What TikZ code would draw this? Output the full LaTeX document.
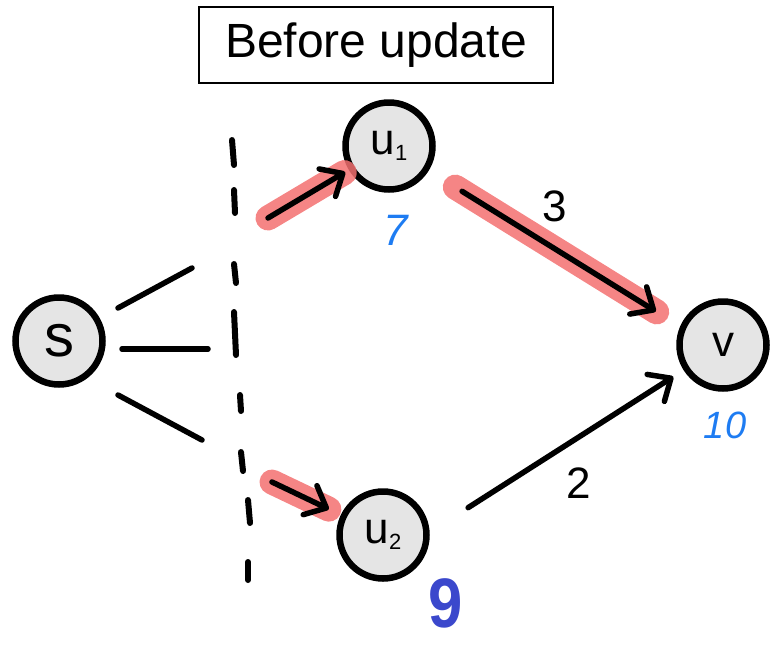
\documentclass[tikz,border=0pt]{standalone}
\usepackage{fontspec}
\usepackage{graphicx}
\setmainfont{Liberation Sans}
\usetikzlibrary{arrows.meta}
\definecolor{hl}{RGB}{243,112,112}
\definecolor{distblue}{RGB}{30,124,242}
\definecolor{newblue}{RGB}{59,72,204}
\definecolor{nodefill}{RGB}{229,229,229}
\begin{document}
\begin{tikzpicture}[x=1pt,y=-1pt,
  vertex/.style={circle, draw=black, line width=6.5pt, fill=nodefill,
    minimum size=87pt, inner sep=0pt, font=\fontsize{44}{44}\selectfont},
  edge/.style={line width=5.5pt, line cap=round},
  arrowedge/.style={edge, -{Straight Barb[length=18pt,width=32pt,round]}},
  highlight/.style={line width=25pt, line cap=round, draw=hl, opacity=0.85},
  dist/.style={text=distblue, font=\fontsize{44}{44}\selectfont\itshape},
  weight/.style={font=\fontsize{44}{44}\selectfont},
  tick/.style={line width=6pt, line cap=round}]
\useasboundingbox (0,0) rectangle (771,646);

% title
\node[draw, line width=1.8pt, minimum width=354pt, minimum height=76pt,
  font=\fontsize{48}{48}\selectfont] (title) at (376,45) {Before update};

% vertices
\node[vertex, font=\fontsize{60}{60}\selectfont] (s) at (59,341) {s};
\node[vertex] (u1) at (389,146) {u\raisebox{-6pt}{\fontsize{22}{22}\selectfont 1}};
\node[vertex] (u2) at (383,535) {u\raisebox{-6pt}{\fontsize{22}{22}\selectfont 2}};
\node[vertex] (v) at (723,345) {v};

% cut line
\draw[tick] (232,140) -- (234,165);
\draw[tick] (234,190) -- (235,213);
\draw[tick] (234,264) -- (236,283);
\draw[tick] (234,312) -- (236,355);
\draw[tick] (240,395) -- (241,411);
\draw[tick] (241,452) -- (243,471);
\draw[tick] (248,500) -- (250,523);
\draw[tick] (248,562) -- (248,580);

% edges leaving s
\coordinate (sa1) at (118,308); \coordinate (sb1) at (192,268);
\coordinate (sa2) at (122,349); \coordinate (sb2) at (208,349);
\coordinate (sa3) at (118,395); \coordinate (sb3) at (202,440);
\draw[edge] (sa1) -- (sb1);
\draw[edge] (sa2) -- (sb2);
\draw[edge] (sa3) -- (sb3);

% crossing edges
\coordinate (p1) at (268,218);
\coordinate (p2) at (272,482);

% highlighted path
\draw[highlight, shorten >=52pt] (p1) -- (u1.center);
\draw[highlight, shorten >=60pt] (p2) -- (u2.center);
\draw[highlight, shorten <=78pt, shorten >=78pt] (u1.center) -- ([yshift=-8pt]v.center);

% arrows
\draw[arrowedge, shorten >=51pt] (p1) -- (u1.center);
\draw[arrowedge, shorten >=60pt] (p2) -- (u2.center);
\draw[arrowedge, shorten <=86pt, shorten >=79pt] (u1.center) -- ([yshift=-8pt]v.center);
\draw[arrowedge, shorten <=101pt, shorten >=59pt] ([yshift=-27pt]u2.center) -- (v.center);

% weights
\node[weight] (w3) at (555,206) {3};
\node[weight] (w2) at (579,483) {2};

% distances
\node[dist] (d1) at (396,230) {7};
\node[dist, font=\fontsize{38}{38}\selectfont\itshape] (dv) at (725,425) {10};
\node[text=newblue, font=\fontsize{70}{70}\selectfont\bfseries, inner sep=0pt] (d2) at (446,603) {\scalebox{0.88}[1]{9}};
\end{tikzpicture}
\end{document}
